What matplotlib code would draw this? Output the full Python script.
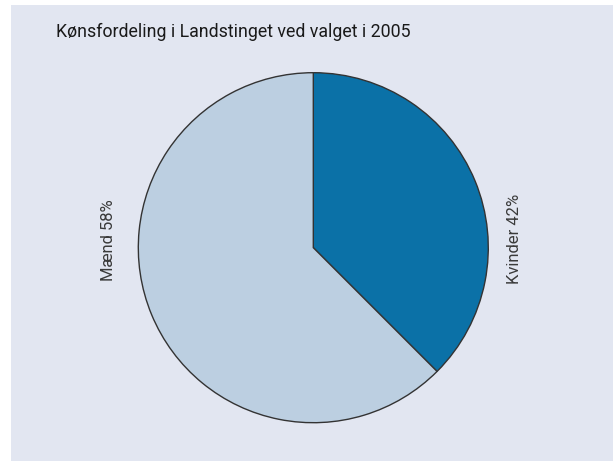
import matplotlib.pyplot as plt

# data
labels = ['Kvinder', 'Mænd']
label_pct = [42, 58]          # as printed on the chart
shares = [37.5, 62.5]         # slice sizes as drawn
colors = ['#0b71a7', '#bccfe1']
title = 'Kønsfordeling i Landstinget ved valget i 2005'

plt.rcParams['font.family'] = ['Roboto', 'DejaVu Sans']

W, H = 614, 461
fig = plt.figure(figsize=(W / 100, H / 100), dpi=100)
fig.patch.set_facecolor('white')

# grey-blue panel behind everything
bg = fig.add_axes([11 / W, 0, (W - 12) / W, (H - 5) / H], zorder=-1)
bg.set_facecolor('#e2e6f1')
bg.set_xticks([])
bg.set_yticks([])
for s in bg.spines.values():
    s.set_visible(False)

cx, cy, r = 313.3, 247.7, 175
ax = fig.add_axes([(cx - r) / W, (H - cy - r) / H, 2 * r / W, 2 * r / H])
ax.set_facecolor('none')
ax.pie(shares, colors=colors, startangle=90, counterclock=False, radius=1,
       wedgeprops=dict(edgecolor='#333333', linewidth=1.0))
ax.set_xlim(-1, 1)
ax.set_ylim(-1, 1)
ax.set_aspect('auto')
ax.axis('off')

ax.text(-1.17, 0.045, f'{labels[1]} {label_pct[1]}%', rotation=90, ha='center',
        va='center', fontsize=12, color='#3a3a3a', clip_on=False)
ax.text(1.15, 0.05, f'{labels[0]} {label_pct[0]}%', rotation=90, ha='center',
        va='center', fontsize=12, color='#3a3a3a', clip_on=False)

fig.text(56 / W, 1 - 32 / H, title, fontsize=12.8, color='#1a1a1a',
         ha='left', va='center')

fig.savefig('out.png', dpi=100)
